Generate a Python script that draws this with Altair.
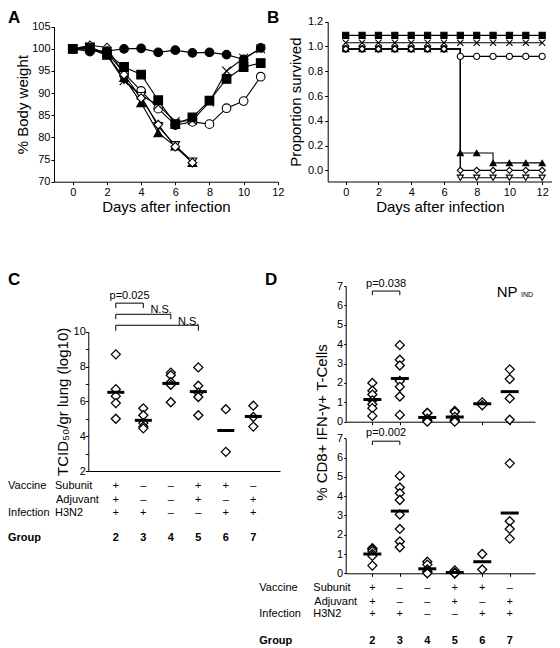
import altair as alt
import pandas as pd

W, H = 544, 640
M = 8


def P(v):
    """page pixel -> chart pixel"""
    return v - M


FONT = "Liberation Sans"

# ---------------- Panel A: % body weight ----------------
days_A = [0, 1, 2, 3, 4, 5, 6, 7, 8, 9, 10, 11]
days_A_lethal = [0, 1, 2, 3, 4, 5, 6, 7]
weight_filled_circle = [100.0, 99.4, 99.5, 100.0, 100.1, 99.2, 99.7, 99.1, 99.2, 98.7, 97.6, 100.2]
weight_filled_square = [100.0, 100.3, 99.0, 95.9, 94.2, 88.4, 83.0, 84.5, 88.3, 93.2, 95.9, 96.8]
weight_cross = [100.0, 100.5, 98.6, 92.8, 89.5, 87.3, 83.6, 83.8, 88.0, 95.0, 97.9, 100.0]
weight_open_circle = [100.0, 100.0, 99.2, 94.5, 90.5, 86.5, 82.8, 83.5, 83.0, 86.6, 88.2, 93.7]
weight_filled_triangle = [100.0, 100.0, 98.5, 93.5, 87.8, 81.0, 78.0, 74.3]
weight_open_diamond = [100.0, 100.8, 100.3, 94.2, 88.9, 82.9, 77.9, 74.3]
weight_open_inv_triangle = [100.0, 100.3, 98.8, 93.0, 89.3, 82.5, 78.2, 74.5]

# ---------------- Panel B: proportion survived ----------------
days_B = [0, 1, 2, 3, 4, 5, 6, 7, 8, 9, 10, 11, 12]
surv_filled_square = [1.09, 1.09, 1.09, 1.09, 1.09, 1.09, 1.09, 1.09, 1.09, 1.09, 1.09, 1.09, 1.09]
surv_cross = [1.03, 1.03, 1.03, 1.03, 1.03, 1.03, 1.03, 1.03, 1.03, 1.03, 1.03, 1.03, 1.03]
surv_open_circle = [0.98, 0.98, 0.98, 0.98, 0.98, 0.98, 0.98, 0.92, 0.92, 0.92, 0.92, 0.92, 0.92]
surv_filled_triangle = [0.98, 0.98, 0.98, 0.98, 0.98, 0.98, 0.98, 0.14, 0.14, 0.06, 0.06, 0.06, 0.06]
surv_open_diamond = [0.98, 0.98, 0.98, 0.98, 0.98, 0.98, 0.98, 0.0, 0.0, 0.0, 0.0, 0.0, 0.0]
surv_open_inv_triangle = [0.98, 0.98, 0.98, 0.98, 0.98, 0.98, 0.98, -0.06, -0.06, -0.06, -0.06, -0.06, -0.06]

XPATH = "M-1,-1L1,1M-1,1L1,-1"
series_order = ["open circle", "cross", "open inverted triangle", "filled triangle",
                "open diamond", "filled square", "filled circle"]
series_shape = ["circle", XPATH, "triangle-down", "triangle-up", "diamond", "square", "circle"]
series_fill = ["white", "white", "white", "black", "white", "black", "black"]

# ---------------- Panel C: lung titres ----------------
groups = ["2", "3", "4", "5", "6", "7"]
tcid_g2 = [8.7, 6.7, 6.3, 5.9, 5.0]
tcid_g3 = [5.6, 5.2, 4.75, 4.55, 4.45]
tcid_g4 = [7.65, 7.5, 7.1, 6.95, 5.95]
tcid_g5 = [7.95, 6.9, 6.5, 6.25, 5.2]
tcid_g6 = [5.55, 3.1]
tcid_g7 = [5.75, 5.1, 4.55]

# ---------------- Panel D: % CD8+ IFN-g+ T cells ----------------
ifng_top_g2 = [2.0, 1.6, 1.4, 1.1, 0.9, 0.7, 0.3]
ifng_top_g3 = [3.95, 3.2, 2.9, 2.1, 1.8, 1.3, 0.35]
ifng_top_g4 = [0.45, 0.45, 0.15, 0.05, 0.0]
ifng_top_g5 = [0.55, 0.5, 0.25, 0.1, 0.05, 0.0]
ifng_top_g6 = [1.0, 0.85]
ifng_top_g7 = [2.7, 2.2, 1.2, 0.1]

ifng_bot_g2 = [1.3, 1.25, 1.15, 1.0, 0.9, 0.4]
ifng_bot_g3 = [5.05, 4.45, 4.15, 3.8, 3.05, 2.3, 1.65, 1.35]
ifng_bot_g4 = [0.6, 0.45, 0.2, 0.1, 0.05, 0.0]
ifng_bot_g5 = [0.15, 0.05, 0.0, 0.0, 0.0]
ifng_bot_g6 = [1.0, 0.2]
ifng_bot_g7 = [5.7, 2.7, 2.3, 1.8]

# ---------------- Treatment table ----------------
subunit_row = ["+", "–", "–", "+", "+", "–"]
adjuvant_row = ["+", "–", "–", "+", "–", "+"]
infection_row = ["+", "+", "–", "–", "+", "+"]

p_c = ["p=0.025", "N.S.", "N.S."]
p_d = ["p=0.038", "p=0.002"]


# ---------------- tables built from the arrays ----------------
def long_series(mapping):
    rows = []
    for name, (days, vals) in mapping.items():
        for d, v in zip(days, vals):
            rows.append({"series": name, "day": d, "value": v})
    return pd.DataFrame(rows)


dfA = long_series({
    "open circle": (days_A, weight_open_circle),
    "cross": (days_A, weight_cross),
    "open inverted triangle": (days_A_lethal, weight_open_inv_triangle),
    "filled triangle": (days_A_lethal, weight_filled_triangle),
    "open diamond": (days_A_lethal, weight_open_diamond),
    "filled square": (days_A, weight_filled_square),
    "filled circle": (days_A, weight_filled_circle),
})
dfB = long_series({
    "open circle": (days_B, surv_open_circle),
    "cross": (days_B, surv_cross),
    "open inverted triangle": (days_B, surv_open_inv_triangle),
    "filled triangle": (days_B, surv_filled_triangle),
    "open diamond": (days_B, surv_open_diamond),
    "filled square": (days_B, surv_filled_square),
})


def group_frame(lists):
    rows = []
    for i, (g, vals) in enumerate(zip(groups, lists)):
        for v in vals:
            rows.append({"idx": i, "group": g, "value": v})
    return pd.DataFrame(rows)


dfC = group_frame([tcid_g2, tcid_g3, tcid_g4, tcid_g5, tcid_g6, tcid_g7])
dfD1 = group_frame([ifng_top_g2, ifng_top_g3, ifng_top_g4, ifng_top_g5, ifng_top_g6, ifng_top_g7])
dfD2 = group_frame([ifng_bot_g2, ifng_bot_g3, ifng_bot_g4, ifng_bot_g5, ifng_bot_g6, ifng_bot_g7])
dfT = pd.DataFrame({"idx": list(range(6)), "group": groups, "subunit": subunit_row,
                    "adjuvant": adjuvant_row, "infection": infection_row})

# ---------------- scales (each panel placed by its scale range) ----------------
xA = alt.Scale(domain=[-1.1, 12], range=[P(54), P(277.8)], nice=False, zero=False)
yA = alt.Scale(domain=[70, 105], range=[P(181.7), P(26.7)], nice=False, zero=False)
xB = alt.Scale(domain=[-1.1, 12.6], range=[P(327.7), P(552)], nice=False, zero=False)
yB = alt.Scale(domain=[-0.09, 1.2], range=[P(181.5), P(21.7)], nice=False, zero=False)
xC = alt.Scale(domain=[-1.0, 5.97], range=[P(88.3), P(280)], nice=False, zero=False)
yC = alt.Scale(domain=[2, 10], range=[P(471), P(331.7)], nice=False, zero=False)
xD = alt.Scale(domain=[-0.97, 5.92], range=[P(345.7), P(535)], nice=False, zero=False)
yD1 = alt.Scale(domain=[0, 7], range=[P(421.7), P(286)], nice=False, zero=False)
yD2 = alt.Scale(domain=[0, 7], range=[P(573.3), P(438.3)], nice=False, zero=False)

shape_enc = alt.Shape("series:N", scale=alt.Scale(domain=series_order, range=series_shape), legend=None)
fill_enc = alt.Fill("series:N", scale=alt.Scale(domain=series_order, range=series_fill), legend=None)

layers = []

# ---- A ----
axA_x = alt.Axis(orient="bottom", values=[0, 2, 4, 6, 8, 10, 12], offset=P(181.7) - H,
                 title="Days after infection", tickSize=3, labelPadding=2, titlePadding=2, labelFlush=False)
axA_y = alt.Axis(orient="left", values=[70, 75, 80, 85, 90, 95, 100, 105], offset=-P(54),
                 title="% Body weight", tickSize=3, labelPadding=1, titlePadding=1)
layers.append(alt.Chart(dfA).mark_line(color="black", strokeWidth=1.1).encode(
    x=alt.X("day:Q", scale=xA, axis=axA_x), y=alt.Y("value:Q", scale=yA, axis=axA_y),
    detail="series:N", order="day:Q"))
layers.append(alt.Chart(dfA).mark_point(filled=True, opacity=1, size=75, stroke="black", strokeWidth=1.1).encode(
    x=alt.X("day:Q", scale=xA, axis=None), y=alt.Y("value:Q", scale=yA, axis=None),
    shape=shape_enc, fill=fill_enc))

# ---- B ----
axB_x = alt.Axis(orient="bottom", values=[0, 2, 4, 6, 8, 10, 12], offset=P(181.5) - H,
                 title="Days after infection", tickSize=3, labelPadding=2, titlePadding=2, labelFlush=False)
axB_y = alt.Axis(orient="left", values=[0.0, 0.2, 0.4, 0.6, 0.8, 1.0, 1.2], format=".1f", offset=-P(327.7),
                 title="Proportion survived", tickSize=3, labelPadding=2, titlePadding=4)
layers.append(alt.Chart(dfB).mark_line(color="black", strokeWidth=1.1, interpolate="step-after").encode(
    x=alt.X("day:Q", scale=xB, axis=axB_x), y=alt.Y("value:Q", scale=yB, axis=axB_y),
    detail="series:N", order="day:Q"))
layers.append(alt.Chart(dfB).mark_point(filled=True, opacity=1, size=38, stroke="black", strokeWidth=1.1).encode(
    x=alt.X("day:Q", scale=xB, axis=None), y=alt.Y("value:Q", scale=yB, axis=None),
    shape=shape_enc, fill=fill_enc))

# ---- C ----
axC_x = alt.Axis(orient="bottom", offset=P(471) - H, ticks=False, labels=False, title="")
axC_y = alt.Axis(orient="left", values=[2, 3, 4, 5, 6, 7, 8, 9, 10], offset=-P(88.3),
                 title="TCID₅₀/gr lung (log10)",
                 labelExpr="datum.value % 2 === 0 ? datum.label : ''", tickSize=3, labelPadding=0,
                 titlePadding=3)
layers.append(alt.Chart(dfC).mark_point(shape="diamond", filled=True, fill="white", stroke="black",
                                         strokeWidth=1.3, size=81, opacity=1).encode(
    x=alt.X("idx:Q", scale=xC, axis=axC_x), y=alt.Y("value:Q", scale=yC, axis=axC_y)))
layers.append(alt.Chart(dfC).mark_tick(orient="horizontal", size=17, thickness=3, color="black", opacity=1).encode(
    x=alt.X("idx:Q", scale=xC, axis=None), y=alt.Y("mean(value):Q", scale=yC, axis=None)))

# ---- D (two stacked panels) ----
for df, ys, yaxis_off in [(dfD1, yD1, 421.7), (dfD2, yD2, 573.3)]:
    axD_x = alt.Axis(orient="bottom", values=[0, 1, 2, 3, 4, 5], offset=P(yaxis_off) - H, tickSize=3,
                     labels=False, title="")
    axD_y = alt.Axis(orient="left", values=[0, 1, 2, 3, 4, 5, 6, 7], offset=-P(345.7), tickSize=2,
                     labelPadding=1, title="")
    layers.append(alt.Chart(df).mark_point(shape="diamond", filled=True, fill="white", stroke="black",
                                           strokeWidth=1.3, size=81, opacity=1).encode(
        x=alt.X("idx:Q", scale=xD, axis=axD_x), y=alt.Y("value:Q", scale=ys, axis=axD_y)))
    layers.append(alt.Chart(df).mark_tick(orient="horizontal", size=18, thickness=3, color="black", opacity=1).encode(
        x=alt.X("idx:Q", scale=xD, axis=None), y=alt.Y("mean(value):Q", scale=ys, axis=None)))


# ---- significance brackets ----
def bracket_frame(spec):
    rows = []
    for x1, x2, top, drop in spec:
        rows.append({"x1": x1, "x2": x2, "y1": top, "y2": top})
        rows.append({"x1": x1, "x2": x1, "y1": top, "y2": top - drop})
        rows.append({"x1": x2, "x2": x2, "y1": top, "y2": top - drop})
    return pd.DataFrame(rows)


for spec, xs, ys in [([(0, 1, 11.64, 0.29), (0, 2, 11.0, 0.28), (0, 3, 10.37, 0.32)], xC, yC),
                     ([(0, 1, 6.74, 0.21)], xD, yD1),
                     ([(0, 1, 6.85, 0.2)], xD, yD2)]:
    layers.append(alt.Chart(bracket_frame(spec)).mark_rule(color="black", strokeWidth=1).encode(
        x=alt.X("x1:Q", scale=xs, axis=None), x2="x2:Q",
        y=alt.Y("y1:Q", scale=ys, axis=None), y2="y2:Q"))


def ptext(text, x, y, xs, ys, align="center", dx=0):
    d = pd.DataFrame({"x": [x], "y": [y], "t": [text]})
    return alt.Chart(d).mark_text(align=align, baseline="alphabetic", fontSize=11, dx=dx, color="black").encode(
        x=alt.X("x:Q", scale=xs, axis=None), y=alt.Y("y:Q", scale=ys, axis=None), text="t:N")


layers.append(ptext(p_c[0], 0.5, 11.9, xC, yC))
layers.append(ptext(p_c[1], 2, 11.05, xC, yC, align="right", dx=1))
layers.append(ptext(p_c[2], 3, 10.40, xC, yC, align="right", dx=1))
layers.append(ptext(p_d[0], 0.5, 6.96, xD, yD1))
layers.append(ptext(p_d[1], 0.5, 7.11, xD, yD2))

# ---- treatment tables ----
for xs, rows_y in [(xC, (486, 499.5, 513.3, 538.3)), (xD, (588.3, 601.7, 614.3, 641))]:
    for col, yy, wt in [("subunit", rows_y[0], "normal"), ("adjuvant", rows_y[1], "normal"),
                        ("infection", rows_y[2], "normal"), ("group", rows_y[3], "bold")]:
        layers.append(alt.Chart(dfT).mark_text(fontSize=11, fontWeight=wt, baseline="middle", align="center",
                                               color="black").encode(
            x=alt.X("idx:Q", scale=xs, axis=None), y=alt.value(P(yy)), text=f"{col}:N"))

one = pd.DataFrame({"k": [0]})


def label(text, x, y, size=11, weight="normal", align="left", baseline="middle", angle=0):
    return alt.Chart(one).mark_text(text=text, fontSize=size, fontWeight=weight, align=align,
                                    baseline=baseline, angle=angle, color="black").encode(
        x=alt.value(P(x)), y=alt.value(P(y)))


for x0, x1, rows_y in [(8, 55, (486, 499.5, 513.3, 538.3)), (259.3, 313.3, (588.3, 601.7, 614.3, 641))]:
    layers.append(label("Vaccine", x0, rows_y[0]))
    layers.append(label("Subunit", x1, rows_y[0]))
    layers.append(label("Adjuvant", x1 + 1, rows_y[1]))
    layers.append(label("Infection", x0, rows_y[2]))
    layers.append(label("H3N2", x1, rows_y[2]))
    layers.append(label("Group", x0, rows_y[3], weight="bold"))

# panel letters and other annotations
layers.append(label("A", 8, 23, size=17, weight="bold", baseline="alphabetic"))
layers.append(label("B", 267, 23, size=17, weight="bold", baseline="alphabetic"))
layers.append(label("C", 8, 285, size=17, weight="bold", baseline="alphabetic"))
layers.append(label("D", 265, 285, size=17, weight="bold", baseline="alphabetic"))
layers.append(label("NP", 496.7, 296.7, size=15, baseline="alphabetic"))
layers.append(label("IND", 521, 296.7, size=7, baseline="alphabetic"))
layers.append(label("% CD8+ IFN-γ+ T-Cells", 321.7, 422.5, size=15, align="center", angle=270))

chart = alt.layer(*layers).resolve_scale(
    x="independent", y="independent"
).properties(
    width=W, height=H, padding=0, autosize=alt.AutoSizeParams(type="none")
).configure_view(strokeWidth=0).configure_axis(
    grid=False, domainColor="black", tickColor="black", labelColor="black", titleColor="black",
    labelFont=FONT, titleFont=FONT, labelFontSize=11, titleFontSize=15, titleFontWeight="normal",
    domainWidth=1, tickWidth=1
).configure_text(font=FONT)

chart.save("out.html", embed_options={"renderer": "svg", "actions": False})
